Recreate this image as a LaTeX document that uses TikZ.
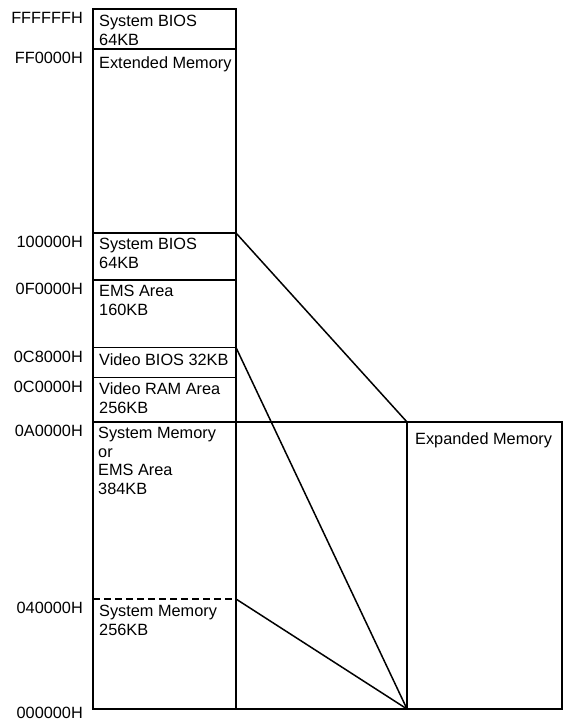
\documentclass[tikz,border=0pt]{standalone}
\usepackage{fontspec}
\setmainfont{Liberation Sans}
\usetikzlibrary{positioning, calc}

\tikzset{
  region/.style={draw, line width=1.6pt, minimum width=143pt, inner sep=0pt, outer sep=0pt},
  addr/.style={inner sep=0pt},
  content/.style={align=left, inner sep=0pt},
  link/.style={line width=1.5pt}
}

\begin{document}
\begin{tikzpicture}[x=1pt, y=-1pt, font=\fontsize{16.3}{18.5}\selectfont]
  \useasboundingbox (0,0) rectangle (565,725);

  % memory column
  \node[region, anchor=north west, minimum height=40pt] (biostop) at (93,9) {};
  \node[region, minimum height=184pt, below=0pt of biostop] (extended) {};
  \node[region, minimum height=47pt, below=0pt of extended] (biosmid) {};
  \node[region, minimum height=67.5pt, below=0pt of biosmid] (emsarea) {};
  \node[region, minimum height=30pt, below=0pt of emsarea] (videobios) {};
  \node[region, minimum height=44.5pt, below=0pt of videobios] (videoram) {};
  \node[region, minimum height=287pt, below=0pt of videoram] (sysmem) {};

  % expanded memory box
  \node[region, anchor=north west, minimum width=155pt, minimum height=287pt] (expanded) at (407,422) {};

  % 0-256KB split
  \coordinate (splitl) at ($(sysmem.south west)+(0,-110)$);
  \coordinate (splitr) at ($(sysmem.south east)+(0,-110)$);
  \draw[line width=1.6pt, dash pattern=on 7pt off 4pt] (splitl) -- (splitr);

  % texts in the column
  \node[content, below right=6pt and 6pt of biostop.north west] (tbiostop) {System BIOS\\64KB};
  \node[content, below right=7pt and 6pt of extended.north west] (textended) {Extended Memory};
  \node[content, below right=5pt and 6pt of biosmid.north west] (tbiosmid) {System BIOS\\64KB};
  \node[content, below right=5pt and 6pt of emsarea.north west] (temsarea) {EMS Area\\160KB};
  \node[content, below right=6pt and 6pt of videobios.north west] (tvideobios) {Video BIOS 32KB};
  \node[content, below right=5pt and 6pt of videoram.north west] (tvideoram) {Video RAM Area\\256KB};
  \node[content, below right=5pt and 5pt of sysmem.north west] (tsysmem) {System Memory\\or\\EMS Area\\384KB};
  \node[content, below right=6pt and 6pt of splitl] (tlowmem) {System Memory\\256KB};
  \node[content, below right=10pt and 8pt of expanded.north west] (texpanded) {Expanded Memory};

  % addresses
  \node[addr, below left=3pt and 10pt of biostop.north west] (aFFFFFF) {FFFFFFH};
  \node[addr, below left=3pt and 10pt of extended.north west] (aFF0000) {FF0000H};
  \node[addr, below left=3pt and 10pt of biosmid.north west] (a100000) {100000H};
  \node[addr, below left=3pt and 10pt of emsarea.north west] (a0F0000) {0F0000H};
  \node[addr, below left=3pt and 10pt of videobios.north west] (a0C8000) {0C8000H};
  \node[addr, below left=3pt and 10pt of videoram.north west] (a0C0000) {0C0000H};
  \node[addr, below left=3pt and 10pt of sysmem.north west] (a0A0000) {0A0000H};
  \node[addr, below left=3pt and 10pt of splitl] (a040000) {040000H};
  \node[addr, below left=-2pt and 10pt of sysmem.south west] (a000000) {000000H};

  % mapping lines
  \draw[line width=1.6pt] (sysmem.north east) -- (expanded.north west);
  \draw[line width=1.6pt] (sysmem.south east) -- (expanded.south west);
  \draw[link] (biosmid.north east) -- (expanded.north west);
  \draw[link] (videobios.north east) -- (expanded.south west);
  \draw[link] (splitr) -- (expanded.south west);
\end{tikzpicture}
\end{document}
